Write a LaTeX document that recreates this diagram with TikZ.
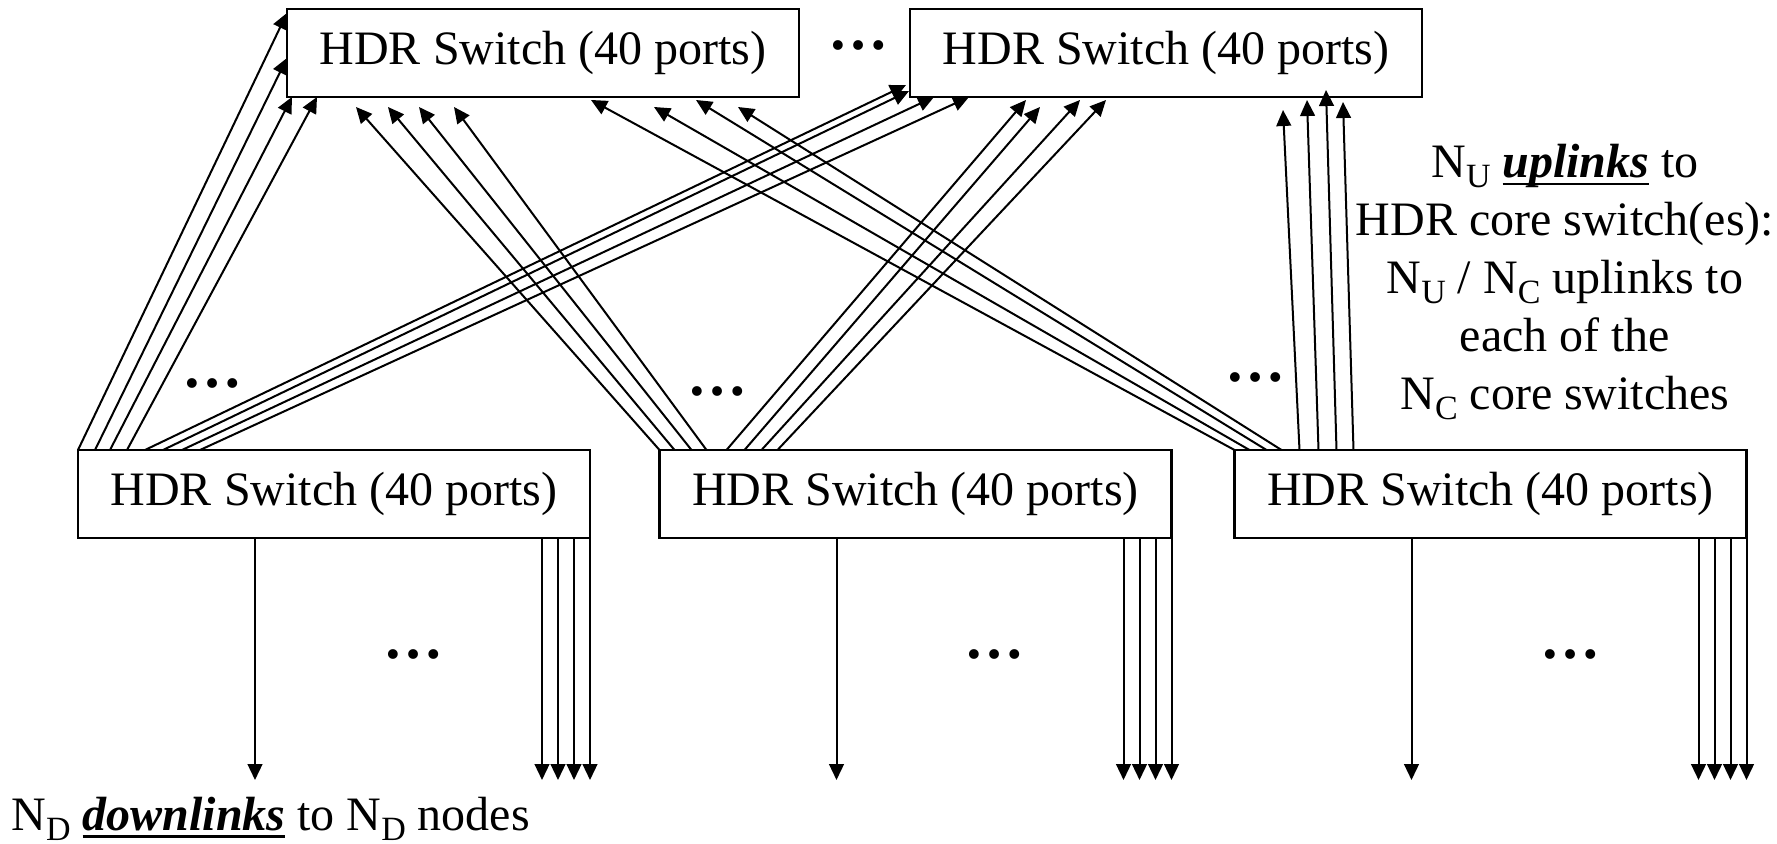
\documentclass[tikz,border=0pt]{standalone}
\usepackage{fontspec}
\setmainfont{Liberation Serif}
\usetikzlibrary{arrows.meta,calc}
\newcommand{\thickul}[1]{\setbox0\hbox{#1}\rlap{\rule[-4pt]{\wd0}{1.3pt}}\box0\relax}
\newcommand{\lowsub}[1]{\raisebox{-5pt}{\fontsize{17}{17}\selectfont #1}}
\begin{document}
\begin{tikzpicture}[x=0.5pt,y=-0.5pt,
  swbox/.style={draw, line width=1.4pt, minimum width=256pt, minimum height=44pt, inner sep=0pt, outer sep=0pt, font=\fontsize{24}{29}\selectfont},
  lnk/.style={line width=1pt, -{Triangle[length=8pt,width=7.4pt]}},
  dotsty/.style={font=\fontsize{30}{30}\selectfont\bfseries, inner sep=0pt},
  lbl/.style={font=\fontsize{24}{29}\selectfont, inner sep=0pt}]
\useasboundingbox (0,0) rectangle (1777,844);
% switches
\node[swbox] (T1) at (543,53) {HDR Switch (40 ports)};
\node[swbox] (T2) at (1166,53) {HDR Switch (40 ports)};
\node[swbox] (B1) at (334,494) {HDR Switch (40 ports)};
\node[swbox] (B2) at (915.5,494) {HDR Switch (40 ports)};
\node[swbox] (B3) at (1490.5,494) {HDR Switch (40 ports)};
% uplinks
\foreach \s/\ex/\ey in {0/0/-84, 17/0/-39, 32/5/0, 49/30/0}
  \draw[lnk] ($(B1.north west)+(\s,0)$) -- ($(T1.south west)+(\ex,\ey)$);
\foreach \s/\ex/\ey in {67/-4/-12, 85/-1/-6, 104/24/0, 122/59/0}
  \draw[lnk] ($(B1.north west)+(\s,0)$) -- ($(T2.south west)+(\ex,\ey)$);
\foreach \s/\ex/\ey in {0/69/10, 15/101/10, 32/132/10, 47/167/10}
  \draw[lnk] ($(B2.north west)+(\s,0)$) -- ($(T1.south west)+(\ex,\ey)$);
\foreach \s/\ex/\ey in {67/116/3, 85/130/10, 102/170/3, 118/196/3}
  \draw[lnk] ($(B2.north west)+(\s,0)$) -- ($(T2.south west)+(\ex,\ey)$);
\foreach \s/\ex/\ey in {0/304/3, 15/367/10, 32/409/3, 47/451/10}
  \draw[lnk] ($(B3.north west)+(\s,0)$) -- ($(T1.south west)+(\ex,\ey)$);
\foreach \s/\ex/\ey in {65/373/13, 84/397/3, 102/416/-7, 119/433/5}
  \draw[lnk] ($(B3.north west)+(\s,0)$) -- ($(T2.south west)+(\ex,\ey)$);
% downlinks
\foreach \b in {B1,B2,B3}{
  \draw[lnk] ($(\b.south west)+(177,0)$) -- ($(\b.south west)+(177,242)$);
  \foreach \o in {-48,-32,-16,0}
    \draw[lnk] ($(\b.south east)+(\o,0)$) -- ($(\b.south east)+(\o,242)$);
}
% dots
\node[dotsty] (d0) at (858,45) {…};
\node[dotsty] (d1) at (212,383) {…};
\node[dotsty] (d2) at (717,391) {…};
\node[dotsty] (d3) at (1255,377) {…};
\node[dotsty] (d4) at (413,654) {…};
\node[dotsty] (d5) at (994,654) {…};
\node[dotsty] (d6) at (1570,654) {…};
% labels
\node[lbl, align=center] (up) at (1565,282) {N\lowsub{U} \thickul{\textbf{\textit{uplinks}}} to\\HDR core switch(es):\\N\lowsub{U} / N\lowsub{C} uplinks to\\each of the\\N\lowsub{C} core switches};
\node[lbl, anchor=base west] (dn) at (11,830) {N\lowsub{D} \thickul{\textbf{\textit{downlinks}}} to N\lowsub{D} nodes};
\end{tikzpicture}
\end{document}
